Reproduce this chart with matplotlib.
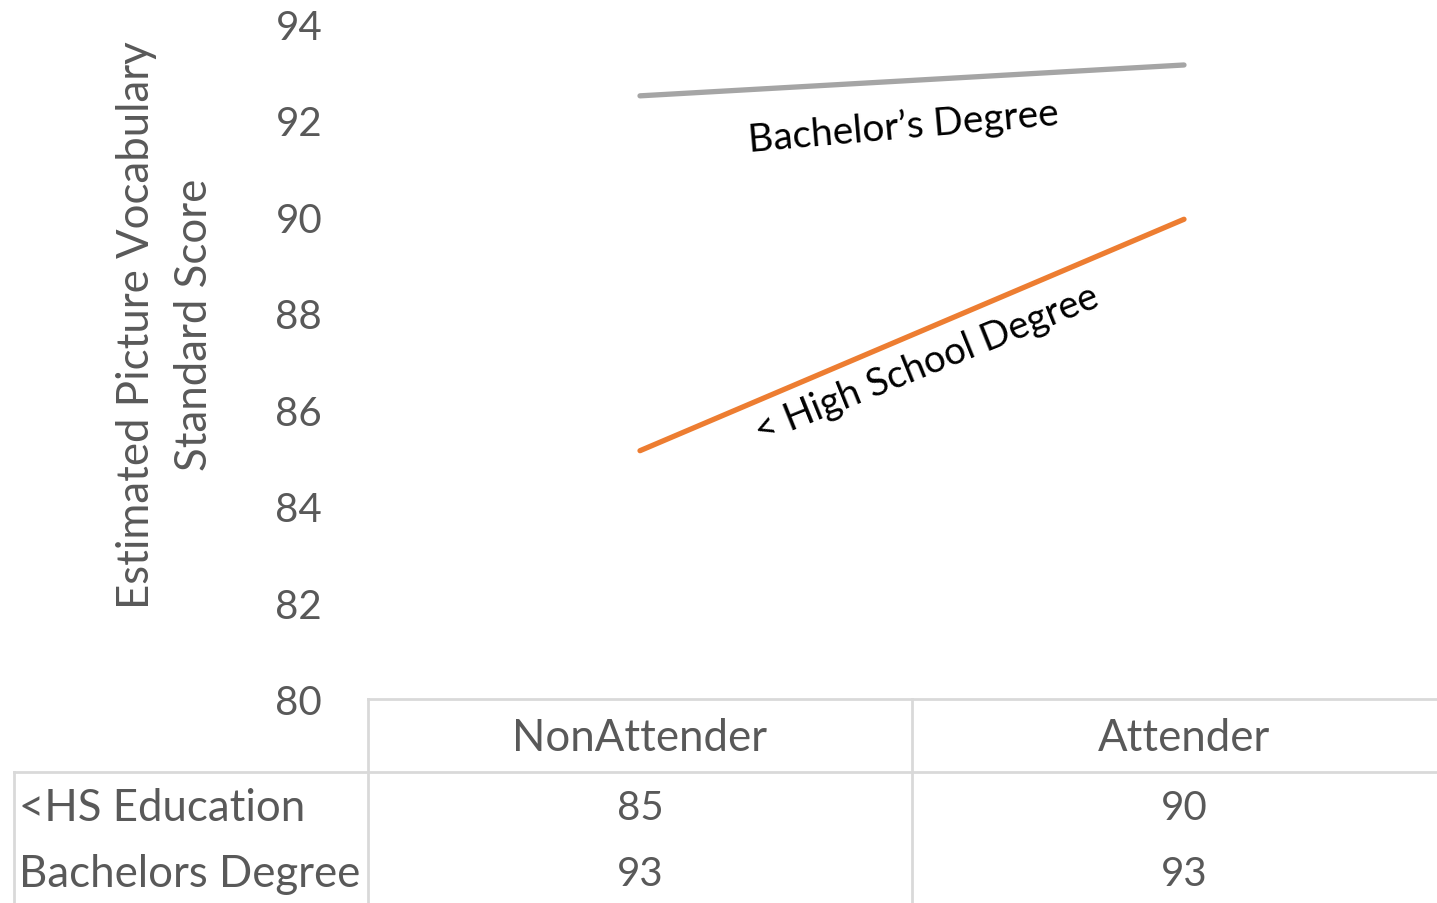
import matplotlib
matplotlib.use("Agg")
import matplotlib.pyplot as plt
import matplotlib.transforms as mtransforms
from matplotlib.lines import Line2D

categories = ["NonAttender", "Attender"]
hs_values = [85.15, 89.95]
ba_values = [92.51, 93.15]
row_labels = ["<HS Education", "Bachelors Degree"]
y_ticks = [80, 82, 84, 86, 88, 90, 92, 94]

plt.rcParams['font.family'] = ['Lato', 'DejaVu Sans']
TXT = '#595959'
GRID = '#D9D9D9'

W, H = 1437, 904
fig = plt.figure(figsize=(W / 100, H / 100), dpi=100)
left_px, right_px, top_px, bot_px = 368, 1456, 25, 700
colw = (right_px - left_px) / len(categories)
ax = fig.add_axes([left_px / W, 1 - bot_px / H, (right_px - left_px) / W, (bot_px - top_px) / H])

x = list(range(len(categories)))
ax.plot(x, hs_values, color='#ED7D31', lw=3.8, solid_capstyle='round')
ax.plot(x, ba_values, color='#A5A5A5', lw=3.8, solid_capstyle='round')

ax.set_xlim(-0.5, len(categories) - 0.5)
ax.set_ylim(80, 94)
ax.set_yticks(y_ticks)
ax.set_yticklabels([str(t) for t in y_ticks])
ax.tick_params(axis='y', length=0, pad=33, labelsize=29, labelcolor=TXT)
ax.set_xticks([])
for s in ax.spines.values():
    s.set_visible(False)

ax.set_ylabel("Estimated Picture Vocabulary\nStandard Score", fontsize=31.5, color=TXT,
              labelpad=0, linespacing=1.5)
ax.yaxis.set_label_coords(-0.141, 0.556)

ax.text(0.484, 91.88, "Bachelor\u2019s Degree", rotation=5, ha='center', va='center',
        fontsize=28, color='black', rotation_mode='anchor')
ax.text(0.527, 86.95, "< High School Degree", rotation=22, ha='center', va='center',
        fontsize=27.5, color='black', rotation_mode='anchor')

# data table
tr = mtransforms.blended_transform_factory(ax.transData, ax.transAxes)
ah = bot_px - top_px
def fy(px):
    return (bot_px - px) / ah

lx = -0.5 - (left_px - 14) / colw
lines = [
    ([-0.5, 2.0], [fy(700), fy(700)]),
    ([lx, 2.0], [fy(773), fy(773)]),
    ([-0.5, -0.5], [fy(700), fy(910)]),
    ([0.5, 0.5], [fy(700), fy(910)]),
    ([1.5, 1.5], [fy(700), fy(910)]),
    ([lx, lx], [fy(773), fy(910)]),
]
for xs, ys in lines:
    ax.add_line(Line2D(xs, ys, transform=tr, color=GRID, lw=2, clip_on=False))

for i, c in enumerate(categories):
    ax.text(i, fy(739), c, transform=tr, ha='center', va='center', fontsize=31.5, color=TXT, clip_on=False)

row_y = [fy(809), fy(875)]
lab_x = -0.5 - (left_px - 19) / colw
for r, (lab, vals) in enumerate(zip(row_labels, [hs_values, ba_values])):
    ax.text(lab_x, row_y[r], lab, transform=tr, ha='left', va='center', fontsize=31.5, color=TXT, clip_on=False)
    for i, v in enumerate(vals):
        ax.text(i, row_y[r], f"{v:.0f}", transform=tr, ha='center', va='center', fontsize=29,
                color=TXT, clip_on=False)

fig.savefig("out.png", dpi=100)
